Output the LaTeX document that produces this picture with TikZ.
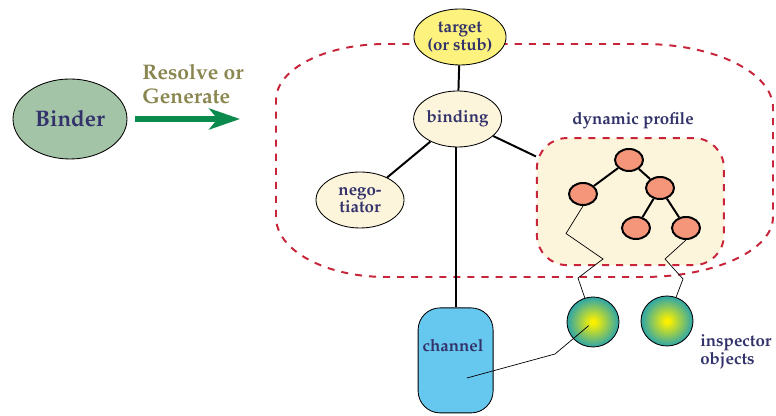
\documentclass[tikz,border=0pt]{standalone}
\usepackage[T1]{fontenc}
\usepackage{mathpazo}
\usetikzlibrary{arrows.meta, positioning, shapes.geometric}

\definecolor{inkblue}{HTML}{33336B}
\definecolor{olivetxt}{HTML}{8A8650}
\definecolor{binderfill}{HTML}{A4C4A8}
\definecolor{arrowgreen}{HTML}{0A8A4C}
\definecolor{targetfill}{HTML}{FDF27E}
\definecolor{creamfill}{HTML}{FDF4DC}
\definecolor{salmon}{HTML}{F5967A}
\definecolor{chanblue}{HTML}{66C8EF}
\definecolor{dashred}{HTML}{C8243A}
\definecolor{glowteal}{HTML}{35A8A2}
\definecolor{glowyellow}{HTML}{FAF000}

\pgfdeclareradialshading{inspglow}{\pgfpoint{0bp}{0bp}}{%
  color(0bp)=(glowyellow); color(2bp)=(glowyellow); color(24bp)=(glowteal); color(50bp)=(glowteal)}

\tikzset{
  lbl/.style={text=inkblue, font=\bfseries\fontsize{12}{11.5}\selectfont, align=center, inner sep=0pt},
  oval/.style={draw, ellipse, line width=0.6pt, inner sep=0pt, minimum width=2.2cm, minimum height=1.4cm,
               text=inkblue, font=\bfseries\fontsize{12}{12.5}\selectfont, align=center},
  treenode/.style={draw, ellipse, line width=1.4pt, fill=salmon, minimum width=0.7cm, minimum height=0.55cm, inner sep=0pt},
  inspector/.style={draw, ellipse, line width=0.6pt, shading=inspglow, minimum width=1.3cm, minimum height=1.25cm, inner sep=0pt},
  link/.style={line width=1.4pt},
  wire/.style={line width=0.5pt},
  reddash/.style={draw=dashred, line width=1.4pt, dash pattern=on 5pt off 5pt}
}

\begin{document}
\begin{tikzpicture}
\useasboundingbox (0,0) rectangle (19.4,10.4);

% outer boundary of the binding
\draw[reddash] (6.9,4.975) -- (6.9,7.9)
  arc[start angle=180, end angle=90, x radius=2.75cm, y radius=1.4cm] -- (16.075,9.3)
  arc[start angle=90, end angle=0, x radius=3.25cm, y radius=1.6cm] -- (19.325,4.975)
  arc[start angle=0, end angle=-90, x radius=3.25cm, y radius=1.5cm] -- (9.65,3.475)
  arc[start angle=270, end angle=180, x radius=2.75cm, y radius=1.5cm] -- cycle;

\node[oval, fill=binderfill, minimum width=2.85cm, minimum height=2cm, font=\bfseries\fontsize{16}{18}\selectfont] (binder) at (1.75,7.425) {Binder};
\node[anchor=west, inner sep=0pt, align=left, text=olivetxt, font=\bfseries\fontsize{15}{17}\selectfont] (resolve) at (3.55,8.3)
     {Resolve or\\Generate};
\coordinate (arrowstart) at (3.375,7.425);
\coordinate (arrowend) at (6.0,7.425);
\draw[arrowgreen, line width=3.6pt, -{Stealth[length=22pt, width=15pt, inset=6pt]}] (arrowstart) -- (arrowend);

\node[oval, fill=targetfill] (target) at (11.5,9.475) {target\\(or stub)};
\node[oval, fill=creamfill] (binding) at (11.44,7.425) {binding};
\node[oval, fill=creamfill, font=\bfseries\fontsize{12}{11.5}\selectfont] (nego) at (9.0,5.4) {nego-\\tiator};

\node[reddash, fill=creamfill, rounded corners=0.75cm, minimum width=4.675cm, minimum height=3.175cm] (profile) at (15.76,5.36) {};
\node[lbl] (proflbl) at (15.825,7.375) {dynamic profile};

\foreach \n/\x/\y in {pr/15.725/6.4, pl/14.575/5.55, pm/16.5/5.7, pml/15.9/4.7, pmr/17.15/4.7}
  \node[treenode] (\n) at (\x,\y) {};
\draw[link] (pr) -- (pl);
\draw[link] (pr) -- (pm);
\draw[link] (pm) -- (pml);
\draw[link] (pm) -- (pmr);

\node[draw, line width=0.6pt, fill=chanblue, rounded corners=0.55cm, minimum width=1.875cm, minimum height=2.625cm] (chan) at (11.39,1.39) {};
\node[lbl] (chanlbl) at (11.325,1.75) {channel};

\node[inspector] (insp1) at (14.825,2.35) {};
\node[inspector] (insp2) at (16.675,2.375) {};
\node[lbl, anchor=west, align=left] (insplbl) at (17.5,1.6) {inspector\\objects};

\draw[link] (target) -- (binding);
\draw[link] (binding) -- (nego);
\draw[link] (binding) -- (profile);
\draw[link] (chan.north) -- (chan.north |- binding.south);

\draw[wire] (pl.south) -- (14.15,4.5625) -- (15.075,3.925) -- (14.45,3.45) -- (insp1);
\draw[wire] (pmr.south) -- (16.625,3.925) -- (17.075,3.425) -- (insp2);
\coordinate (chanend) at (11.675,0.95);
\draw[wire, shorten >=4pt] (chanend) -- (13.875,1.55) -- (insp1.center);
\end{tikzpicture}
\end{document}
